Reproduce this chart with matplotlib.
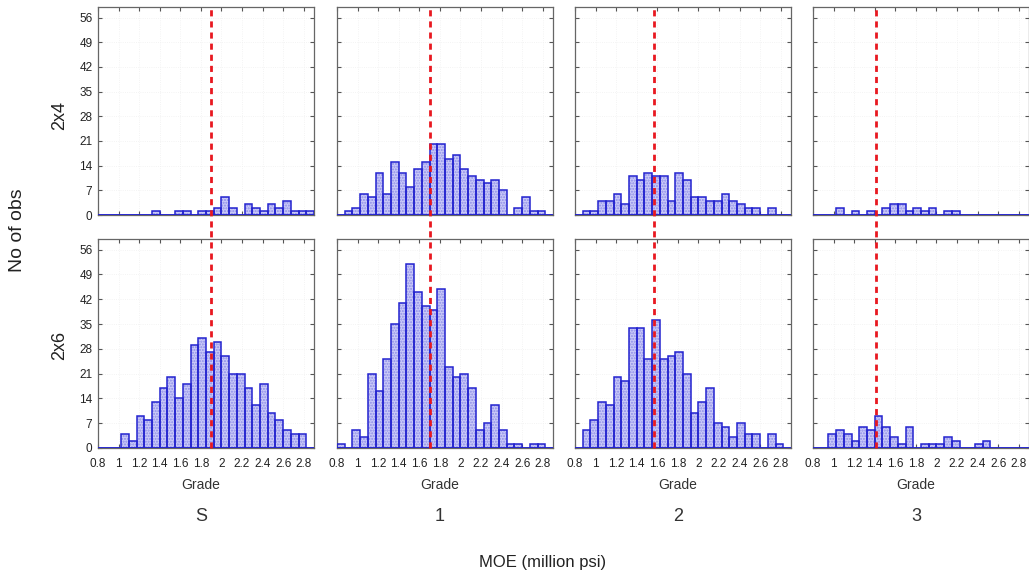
import numpy as np
import matplotlib
matplotlib.use("Agg")
import matplotlib.pyplot as plt

plt.rcParams["font.family"] = ["Liberation Sans", "DejaVu Sans"]
TICK_FONT = ["Liberation Sans Narrow", "Liberation Sans", "DejaVu Sans"]

# histogram bins: 28 bins of width 0.075 starting at 0.8 (million psi)
BIN_START, BIN_WIDTH, N_BINS = 0.8, 0.075, 28
grades = ["S", "1", "2", "3"]
sizes = ["2x4", "2x6"]

counts_2x4 = {
    "S": [0, 0, 0, 0, 0, 0, 0, 1, 0, 0, 1, 1, 0, 1, 1, 2, 5, 2, 0, 3, 2, 1, 3, 2, 4, 1, 1, 1],
    "1": [0, 1, 2, 6, 5, 12, 6, 15, 12, 8, 13, 15, 20, 20, 16, 17, 13, 11, 10, 9, 10, 7, 0, 2, 5, 1, 1, 0],
    "2": [0, 1, 1, 4, 4, 6, 3, 11, 10, 12, 11, 11, 4, 12, 10, 5, 5, 4, 4, 6, 4, 3, 2, 2, 0, 2, 0, 0],
    "3": [0, 0, 0, 2, 0, 1, 0, 1, 0, 2, 3, 3, 1, 2, 1, 2, 0, 1, 1, 0, 0, 0, 0, 0, 0, 0, 0, 0],
}
counts_2x6 = {
    "S": [0, 0, 0, 4, 2, 9, 8, 13, 17, 20, 14, 18, 29, 31, 27, 30, 26, 21, 21, 17, 12, 18, 10, 8, 5, 4, 4, 0],
    "1": [1, 0, 5, 3, 21, 16, 25, 35, 41, 52, 44, 40, 39, 45, 23, 20, 21, 17, 5, 7, 12, 5, 1, 1, 0, 1, 1, 0],
    "2": [0, 5, 8, 13, 12, 20, 19, 34, 34, 25, 36, 25, 26, 27, 21, 10, 13, 17, 7, 6, 3, 7, 4, 4, 0, 4, 1, 0],
    "3": [0, 0, 4, 5, 4, 2, 6, 5, 9, 6, 3, 1, 6, 0, 1, 1, 1, 3, 2, 0, 0, 1, 2, 0, 0, 0, 0, 0],
}
# mean MOE per grade (red dashed line)
grade_means = {"S": 1.90, "1": 1.70, "2": 1.57, "3": 1.41}

x_ticks = [0.8, 1.0, 1.2, 1.4, 1.6, 1.8, 2.0, 2.2, 2.4, 2.6, 2.8]
x_ticklabels = ["0.8", "1", "1.2", "1.4", "1.6", "1.8", "2", "2.2", "2.4", "2.6", "2.8"]
y_ticks = [0, 7, 14, 21, 28, 35, 42, 49, 56]

edges = BIN_START + BIN_WIDTH * np.arange(N_BINS + 1)

FILL, HATCH, EDGE = "#cacaf8", "#8c8ce8", "#2323cf"

fig = plt.figure(figsize=(10.29, 5.75), dpi=100)
W, H = 1029, 575
lefts = [98, 337, 575, 813]
row_top = {"2x4": (7, 215), "2x6": (239, 448)}
pw = 216

for r, size in enumerate(sizes):
    y0, y1 = row_top[size]
    data = counts_2x4 if size == "2x4" else counts_2x6
    for c, g in enumerate(grades):
        ax = fig.add_axes([lefts[c] / W, 1 - y1 / H, pw / W, (y1 - y0) / H])
        cnt = data[g]
        ax.bar(edges[:-1], cnt, BIN_WIDTH, align="edge", color=FILL,
               edgecolor=HATCH, hatch="......", lw=0, zorder=2)
        ax.bar(edges[:-1], cnt, BIN_WIDTH, align="edge", color="none",
               edgecolor=EDGE, lw=1.1, zorder=3)
        ax.axhline(0, color=EDGE, lw=1.8, zorder=4)
        if size == "2x4":
            ax.axvline(grade_means[g], ymin=-0.06, ymax=1, color="#e81820", lw=2,
                       ls=(0, (2.2, 1.8)), clip_on=False, zorder=5)
        else:
            ax.axvline(grade_means[g], ymin=0, ymax=1.06, color="#e81820", lw=2,
                       ls=(0, (2.2, 1.8)), clip_on=False, zorder=5)
        ax.set_xlim(0.8, 2.9)
        ax.set_ylim(0, 59)
        ax.set_xticks(x_ticks)
        ax.set_yticks(y_ticks)
        ax.grid(color="#f0f0f0", lw=0.6, ls=":", zorder=0)
        ax.tick_params(direction="in", length=3, top=True, right=True,
                       color="#555555", labelsize=8.5, labelcolor="#222222")
        ax.tick_params(axis="x", pad=7)
        ax.tick_params(axis="y", pad=4)
        for s in ax.spines.values():
            s.set_color("#666666"); s.set_linewidth(0.9)
        if r == 1:
            ax.set_xticklabels(x_ticklabels, family=TICK_FONT)
            ax.text(1.8, -0.175, "Grade", transform=ax.get_xaxis_transform(),
                    ha="center", va="center", fontsize=10, color="#333333")
            ax.text(1.8, -0.33, g, transform=ax.get_xaxis_transform(),
                    ha="center", va="center", fontsize=13, color="#333333")
        else:
            ax.set_xticklabels([])
        if c == 0:
            ax.set_yticklabels([str(v) for v in y_ticks], family=TICK_FONT)
        else:
            ax.set_yticklabels([])

fig.text(60 / W, 1 - 115 / H, "2x4", rotation=90, ha="center", va="center",
         fontsize=13, color="#222222")
fig.text(60 / W, 1 - 345 / H, "2x6", rotation=90, ha="center", va="center",
         fontsize=13, color="#222222")
fig.text(17 / W, 1 - 230 / H, "No of obs", rotation=90, ha="center", va="center",
         fontsize=14, color="#222222")
fig.text(543 / W, 1 - 562 / H, "MOE (million psi)", ha="center", va="center",
         fontsize=12, color="#222222")

fig.savefig("out.png", dpi=100)
